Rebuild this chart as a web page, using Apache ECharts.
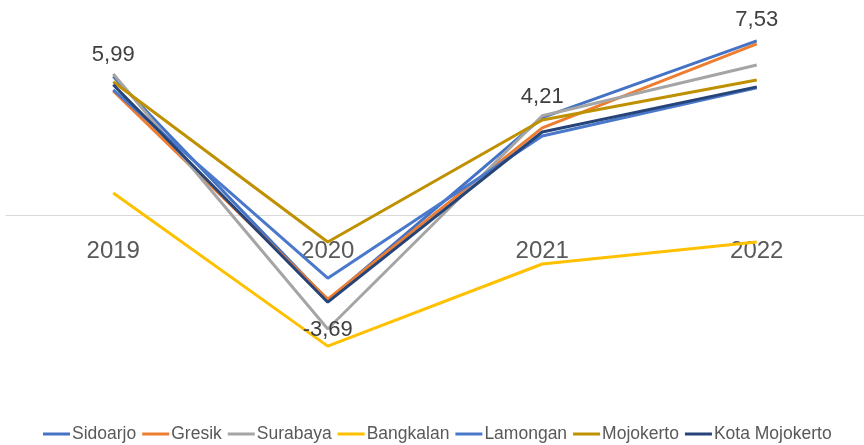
<!DOCTYPE html>
<html>
<head>
<meta charset="utf-8">
<script src="https://cdn.jsdelivr.net/npm/echarts@6/dist/echarts.min.js"></script>
<style>
  html, body { margin: 0; padding: 0; background: #fff; }
  #chart { width: 864px; height: 445px; }
</style>
</head>
<body>
<div id="chart"></div>
<script>
const years = ['2019', '2020', '2021', '2022']

const sidoarjo = [5.99, -3.69, 4.21, 7.53]
const gresik = [5.37, -3.64, 3.77, 7.40]
const surabaya = [6.10, -4.93, 4.29, 6.49]
const bangkalan = [0.95, -5.67, -2.12, -1.17]
const lamongan = [5.41, -2.73, 3.42, 5.50]
const mojokerto = [5.76, -1.17, 4.11, 5.84]
const kotaMojokerto = [5.63, -3.77, 3.59, 5.54]

// which points of Sidoarjo get a value label, and on which side
const labelSide = ['top', 'bottom', 'top', 'top']

const fmt = v => v.toFixed(2).replace('.', ',')

function line(name, values, color, withLabels) {
  return {
    name: name,
    type: 'line',
    symbol: withLabels ? 'circle' : 'none',
    symbolSize: 0.1,
    lineStyle: { width: 3, color: color },
    itemStyle: { color: color },
    label: withLabels ? {
      show: true,
      position: 'top',
      distance: 10,
      formatter: p => fmt(p.value),
      fontSize: 22,
      color: '#404040',
      fontFamily: 'Liberation Sans'
    } : { show: false },
    data: values.map((v, i) => {
      if (!withLabels) return v
      return {
        value: v,
        label: {
          position: labelSide[i],
          distance: labelSide[i] === 'top' ? 10 : 19
        }
      }
    })
  }
}

const chart = echarts.init(document.getElementById('chart'))
chart.setOption({
  animation: false,
  grid: { left: 6, right: -5, top: 30, bottom: 45 },
  legend: {
    top: 420,
    left: 38,
    icon: 'rect',
    itemWidth: 27,
    itemHeight: 3,
    itemGap: 6,
    textStyle: { fontSize: 17.5, color: '#595959', fontFamily: 'Liberation Sans', padding: [0, 0, 0, -3] },
    data: ['Sidoarjo', 'Gresik', 'Surabaya', 'Bangkalan', 'Lamongan', 'Mojokerto', 'Kota Mojokerto']
  },
  xAxis: {
    type: 'category',
    data: years,
    offset: -185,
    axisLine: { onZero: false, lineStyle: { color: '#D9D9D9', width: 1 } },
    axisTick: { show: false },
    axisLabel: { fontSize: 24, color: '#595959', fontFamily: 'Liberation Sans', margin: 24 }
  },
  yAxis: {
    type: 'value',
    min: -8,
    max: 8,
    show: false,
    splitLine: { show: false }
  },
  series: [
    line('Sidoarjo', sidoarjo, '#4472C4', true),
    line('Gresik', gresik, '#ED7D31'),
    line('Surabaya', surabaya, '#A5A5A5'),
    line('Bangkalan', bangkalan, '#FFC000'),
    line('Lamongan', lamongan, '#4A78CB'),
    line('Mojokerto', mojokerto, '#BF9000'),
    line('Kota Mojokerto', kotaMojokerto, '#264478')
  ]
})
</script>
</body>
</html>
